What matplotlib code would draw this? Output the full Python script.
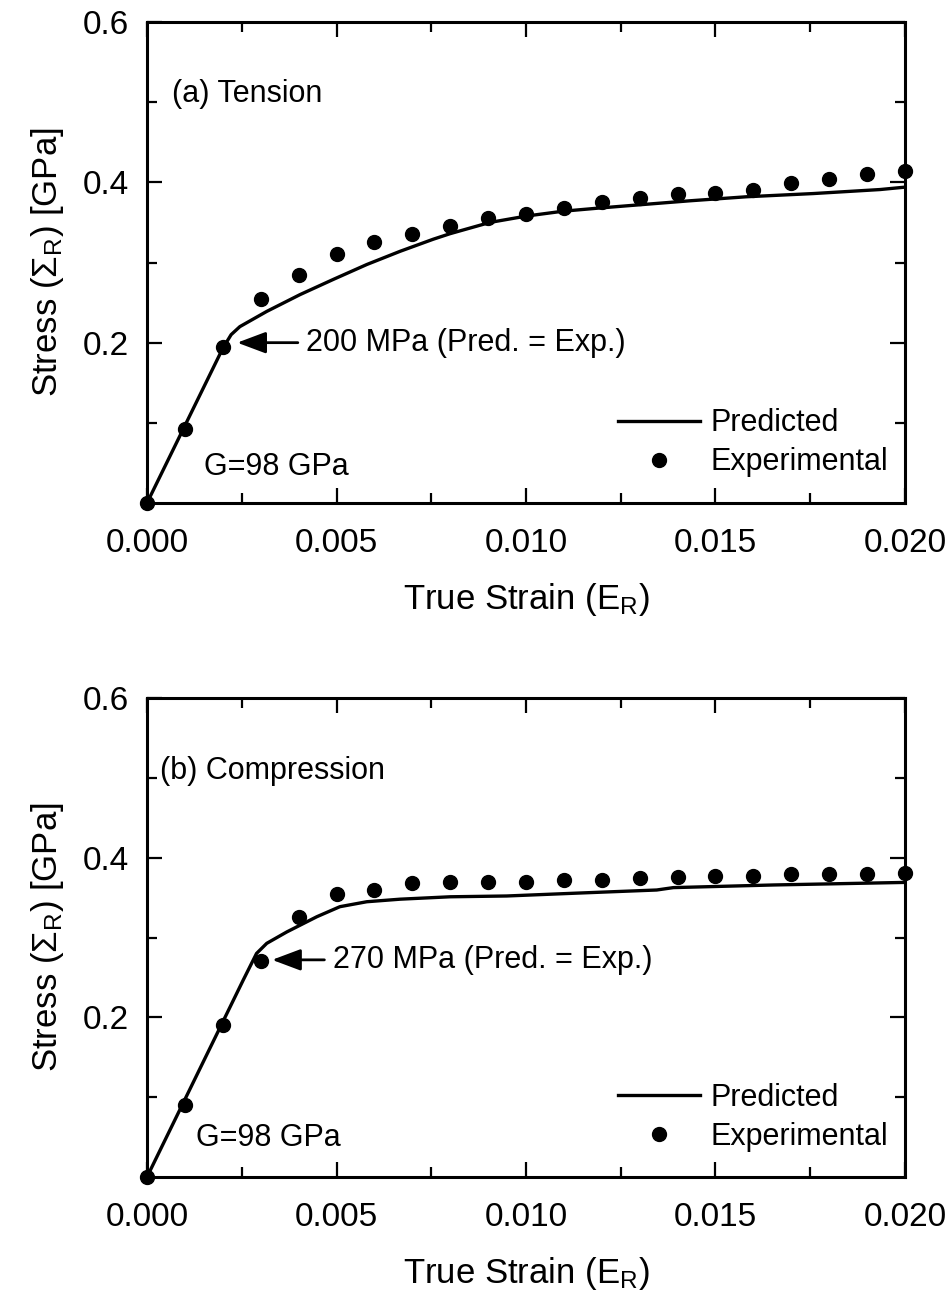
import matplotlib
matplotlib.use("Agg")
import matplotlib.pyplot as plt
from matplotlib.ticker import FixedLocator, MultipleLocator

plt.rcParams['font.family'] = ['Liberation Sans', 'DejaVu Sans']
plt.rcParams['mathtext.fontset'] = 'custom'
plt.rcParams['mathtext.rm'] = 'Liberation Sans'
plt.rcParams['mathtext.it'] = 'Liberation Sans:italic'

# ---------------- data ----------------
# (a) Tension
ten_exp_strain = [0.0, 0.001, 0.002, 0.003, 0.004, 0.005, 0.006, 0.007, 0.008, 0.009, 0.010,
                  0.011, 0.012, 0.013, 0.014, 0.015, 0.016, 0.017, 0.018, 0.019, 0.020]
ten_exp_stress = [0.0, 0.092, 0.194, 0.254, 0.285, 0.311, 0.325, 0.335, 0.345, 0.356, 0.361,
                  0.368, 0.375, 0.381, 0.386, 0.387, 0.391, 0.399, 0.404, 0.410, 0.414]
ten_pred_strain = [0.0, 0.0020, 0.00222, 0.00245, 0.00316, 0.00404, 0.00492, 0.0058, 0.00668,
                   0.00755, 0.0080, 0.00905, 0.01002, 0.01098, 0.01195, 0.0130, 0.01433,
                   0.01582, 0.01758, 0.01934, 0.020]
ten_pred_stress = [0.0, 0.193, 0.210, 0.220, 0.239, 0.260, 0.279, 0.2975, 0.314,
                   0.329, 0.336, 0.350, 0.358, 0.364, 0.368, 0.372, 0.377,
                   0.382, 0.386, 0.391, 0.394]

# (b) Compression
com_exp_strain = [0.0, 0.001, 0.002, 0.003, 0.004, 0.005, 0.006, 0.007, 0.008, 0.009, 0.010,
                  0.011, 0.012, 0.013, 0.014, 0.015, 0.016, 0.017, 0.018, 0.019, 0.020]
com_exp_stress = [0.0, 0.090, 0.191, 0.270, 0.326, 0.355, 0.360, 0.368, 0.369, 0.370, 0.370,
                  0.372, 0.3725, 0.374, 0.376, 0.3766, 0.3775, 0.380, 0.380, 0.380, 0.381]
com_pred_strain = [0.0, 0.00254, 0.00289, 0.00316, 0.00369, 0.00448, 0.00509, 0.0058,
                   0.00668, 0.0080, 0.00949, 0.01125, 0.01345, 0.01389, 0.01653, 0.020]
com_pred_stress = [0.0, 0.2468, 0.280, 0.2927, 0.307, 0.326, 0.3386, 0.3448,
                   0.348, 0.351, 0.352, 0.3554, 0.3595, 0.3625, 0.3658, 0.369]

x_ticks = [0.0, 0.005, 0.010, 0.015, 0.020]
x_ticklabels = ['0.000', '0.005', '0.010', '0.015', '0.020']
y_ticks = [0.2, 0.4, 0.6]
y_ticklabels = ['0.2', '0.4', '0.6']

panels = [
    dict(title='(a) Tension', exp_x=ten_exp_strain, exp_y=ten_exp_stress,
         pred_x=ten_pred_strain, pred_y=ten_pred_stress,
         ann='200 MPa (Pred. = Exp.)', ann_xy=(0.00238, 0.2), ann_text=(0.0042, 0.2),
         title_xy=(0.00065, 0.51), g_xy=(0.0015, 0.045)),
    dict(title='(b) Compression', exp_x=com_exp_strain, exp_y=com_exp_stress,
         pred_x=com_pred_strain, pred_y=com_pred_stress,
         ann='270 MPa (Pred. = Exp.)', ann_xy=(0.0033, 0.272), ann_text=(0.0049, 0.272),
         title_xy=(0.00035, 0.508), g_xy=(0.0013, 0.049)),
]

fig = plt.figure(figsize=(9.53, 13.03), dpi=100)
axes_rects = [
    [147 / 953, (1303 - 503) / 1303, 758 / 953, 481 / 1303],
    [147 / 953, (1303 - 1177) / 1303, 758 / 953, 479 / 1303],
]

for rect, p in zip(axes_rects, panels):
    ax = fig.add_axes(rect)
    ax.plot(p['pred_x'], p['pred_y'], color='black', lw=2.4, label='Predicted', zorder=3,
            solid_joinstyle='round')
    ax.plot(p['exp_x'], p['exp_y'], linestyle='none', marker='o', ms=10, color='black',
            label='Experimental', clip_on=False, zorder=4)
    ax.set_xlim(0, 0.020)
    ax.set_ylim(0, 0.6)
    ax.xaxis.set_major_locator(FixedLocator(x_ticks))
    ax.set_xticklabels(x_ticklabels)
    ax.xaxis.set_minor_locator(MultipleLocator(0.0025))
    ax.yaxis.set_major_locator(FixedLocator(y_ticks))
    ax.set_yticklabels(y_ticklabels)
    ax.yaxis.set_minor_locator(FixedLocator([0.1, 0.3, 0.5]))
    ax.tick_params(which='both', direction='in', top=True, right=True, width=1.6, labelsize=24)
    ax.tick_params(which='major', length=11)
    ax.tick_params(which='minor', length=7)
    ax.tick_params(axis='x', which='major', pad=18)
    ax.tick_params(axis='y', which='major', pad=13)
    for s in ax.spines.values():
        s.set_linewidth(2.2)
    ax.set_xlabel(r'True Strain (E$\mathregular{_R}$)', fontsize=25, labelpad=16)
    ax.set_ylabel(r'Stress ($\mathregular{\Sigma_R}$) [GPa]', fontsize=25, labelpad=12)
    ax.text(p['title_xy'][0], p['title_xy'][1], p['title'], fontsize=22, va='center', ha='left')
    ax.text(p['g_xy'][0], p['g_xy'][1], 'G=98 GPa', fontsize=22, va='center', ha='left')
    ax.annotate(p['ann'], xy=p['ann_xy'], xytext=p['ann_text'], fontsize=22, va='center', ha='left',
                arrowprops=dict(arrowstyle='-|>,head_length=0.8,head_width=0.3', color='black',
                                lw=2, shrinkA=4, shrinkB=0))
    leg = ax.legend(loc='upper left', bbox_to_anchor=(0.621, 0.197), frameon=False, fontsize=22,
                    handlelength=2.7, handletextpad=0.35, labelspacing=0.3, borderpad=0,
                    borderaxespad=0, numpoints=1)

fig.savefig('out.png', dpi=100)
